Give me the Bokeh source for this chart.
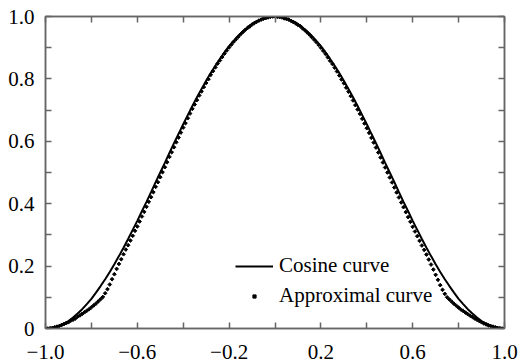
import numpy as np
from bokeh.plotting import figure
from bokeh.models import FixedTicker, LinearAxis, Legend, LegendItem, Range1d
from bokeh.embed import file_html
from bokeh.resources import INLINE

# Cosine curve, sampled every 0.02 from -1 to 1
cos_y = [0.000, 0.001, 0.004, 0.009, 0.016, 0.024, 0.035, 0.048, 0.062, 0.078,
         0.095, 0.115, 0.136, 0.158, 0.181, 0.206, 0.232, 0.259, 0.287, 0.316,
         0.345, 0.376, 0.406, 0.437, 0.469, 0.500, 0.531, 0.563, 0.594, 0.624,
         0.655, 0.684, 0.713, 0.741, 0.768, 0.794, 0.819, 0.842, 0.864, 0.885,
         0.905, 0.922, 0.938, 0.952, 0.965, 0.976, 0.984, 0.991, 0.996, 0.999,
         1.000,
         0.999, 0.996, 0.991, 0.984, 0.976, 0.965, 0.952, 0.938, 0.922, 0.905,
         0.885, 0.864, 0.842, 0.819, 0.794, 0.768, 0.741, 0.713, 0.684, 0.655,
         0.624, 0.594, 0.563, 0.531, 0.500, 0.469, 0.437, 0.406, 0.376, 0.345,
         0.316, 0.287, 0.259, 0.232, 0.206, 0.181, 0.158, 0.136, 0.115, 0.095,
         0.078, 0.062, 0.048, 0.035, 0.024, 0.016, 0.009, 0.004, 0.001, 0.000]
cos_x = np.linspace(-1.0, 1.0, len(cos_y))

# Approximal curve, sampled every 0.01 from -1 to 1
approx_y = [0.000, 0.000, 0.001, 0.002, 0.004, 0.006, 0.008, 0.011, 0.014, 0.017,
            0.020, 0.025, 0.028, 0.032, 0.038, 0.042, 0.047, 0.052, 0.057, 0.062,
            0.068, 0.074, 0.080, 0.087, 0.094, 0.101, 0.113, 0.126, 0.141, 0.158,
            0.174, 0.191, 0.207, 0.222, 0.238, 0.253, 0.267, 0.282, 0.297, 0.313,
            0.327, 0.343, 0.359, 0.374, 0.390, 0.406, 0.421, 0.437, 0.454, 0.469,
            0.485, 0.501, 0.517, 0.533, 0.550, 0.565, 0.581, 0.597, 0.612, 0.628,
            0.644, 0.658, 0.674, 0.689, 0.704, 0.718, 0.732, 0.747, 0.760, 0.774,
            0.787, 0.799, 0.813, 0.825, 0.837, 0.849, 0.859, 0.870, 0.881, 0.891,
            0.901, 0.910, 0.919, 0.927, 0.935, 0.943, 0.950, 0.957, 0.963, 0.968,
            0.974, 0.979, 0.983, 0.987, 0.990, 0.993, 0.995, 0.997, 0.999, 1.000,
            1.000,
            0.999, 0.998, 0.997, 0.994, 0.992, 0.990, 0.986, 0.982, 0.978, 0.973,
            0.969, 0.962, 0.956, 0.949, 0.942, 0.934, 0.926, 0.918, 0.909, 0.900,
            0.890, 0.880, 0.869, 0.858, 0.848, 0.836, 0.824, 0.811, 0.798, 0.786,
            0.772, 0.759, 0.745, 0.731, 0.716, 0.702, 0.688, 0.672, 0.657, 0.642,
            0.627, 0.611, 0.596, 0.580, 0.564, 0.548, 0.532, 0.516, 0.500, 0.484,
            0.468, 0.452, 0.436, 0.420, 0.404, 0.389, 0.373, 0.357, 0.342, 0.326,
            0.311, 0.296, 0.281, 0.266, 0.252, 0.237, 0.221, 0.205, 0.189, 0.172,
            0.156, 0.139, 0.124, 0.111, 0.100, 0.093, 0.086, 0.079, 0.073, 0.067,
            0.061, 0.056, 0.051, 0.046, 0.041, 0.037, 0.032, 0.028, 0.024, 0.020,
            0.016, 0.013, 0.010, 0.008, 0.006, 0.004, 0.002, 0.001, 0.000, 0.000]
approx_x = np.linspace(-1.0, 1.0, len(approx_y))

x_major = [-1.0, -0.6, -0.2, 0.2, 0.6, 1.0]
x_minor = [-0.8, -0.4, 0.0, 0.4, 0.8]
x_labels = {-1: "\u22121.0", -0.6: "\u22120.6", -0.2: "\u22120.2", 0.2: "0.2", 0.6: "0.6", 1: "1.0"}
y_major = [0.0, 0.2, 0.4, 0.6, 0.8, 1.0]
y_minor = [0.1, 0.3, 0.5, 0.7, 0.9]
y_labels = {0: "0", 0.2: "0.2", 0.4: "0.4", 0.6: "0.6", 0.8: "0.8", 1: "1.0"}

FONT = "Liberation Serif"
FRAME = "#666666"

p = figure(width=524, height=364, output_backend="svg", toolbar_location=None,
           x_range=Range1d(-1, 1), y_range=Range1d(0, 1),
           min_border_left=45, min_border_right=20, min_border_top=16, min_border_bottom=36,
           x_axis_location=None, y_axis_location=None)
p.grid.visible = False
p.outline_line_color = FRAME
p.outline_line_width = 1.5
p.background_fill_color = "white"
p.border_fill_color = "white"

def style_axis(ax, ticks, minor, labels, show_labels):
    ax.ticker = FixedTicker(ticks=ticks, minor_ticks=minor)
    ax.axis_line_color = FRAME
    ax.axis_line_width = 1.5
    ax.major_tick_line_color = FRAME
    ax.minor_tick_line_color = FRAME
    ax.major_tick_line_width = 1.5
    ax.minor_tick_line_width = 1.5
    ax.major_tick_in = 6
    ax.major_tick_out = 0
    ax.minor_tick_in = 6
    ax.minor_tick_out = 0
    ax.major_label_text_font = FONT
    ax.major_label_text_font_size = "21px"
    ax.major_label_text_color = "black"
    if show_labels:
        ax.major_label_overrides = labels
        ax.major_label_standoff = 16
    else:
        ax.major_label_overrides = {k: "" for k in labels}
        ax.major_label_standoff = 0

bottom = LinearAxis()
style_axis(bottom, x_major, x_minor, x_labels, True)
left = LinearAxis()
style_axis(left, y_major, y_minor, y_labels, True)
left.major_label_standoff = 11
top = LinearAxis()
style_axis(top, x_major, x_minor, x_labels, False)
right = LinearAxis()
style_axis(right, y_major, y_minor, y_labels, False)
p.add_layout(bottom, "below")
p.add_layout(left, "left")
p.add_layout(top, "above")
p.add_layout(right, "right")

r_line = p.line(cos_x, cos_y, line_color="black", line_width=2)
r_dots = p.scatter(approx_x, approx_y, marker="square", size=2.6, angle=0.785,
                   fill_color="black", line_color="black")

legend = Legend(items=[LegendItem(label="Cosine curve", renderers=[r_line]),
                       LegendItem(label="Approximal curve", renderers=[r_dots])],
                location=(190, 20), orientation="vertical")
legend.border_line_color = None
legend.background_fill_alpha = 0
legend.padding = 0
legend.margin = 0
legend.spacing = 5
legend.glyph_width = 38
legend.glyph_height = 8
legend.label_height = 21
legend.label_standoff = 6
legend.label_text_font = FONT
legend.label_text_font_size = "21px"
legend.label_text_color = "black"
p.add_layout(legend, "center")

open("out.html", "w").write(file_html(p, INLINE))
